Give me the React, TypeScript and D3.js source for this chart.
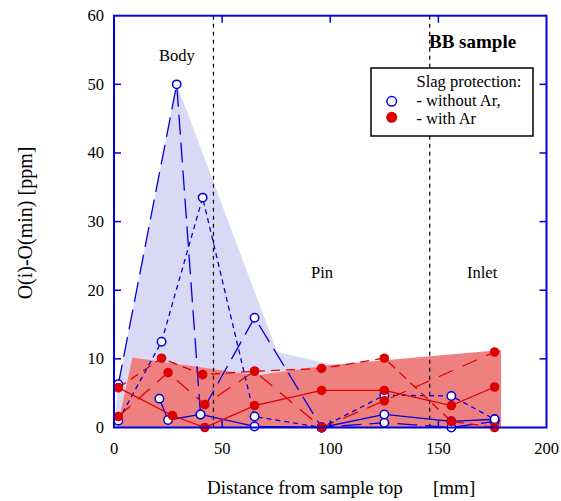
import React from 'react';
import * as d3 from 'd3';

// blue = without Ar (open circles), red = with Ar (filled)
const blueLongX = [2, 29, 40, 65, 96, 125, 156, 176];
const blueLongY = [6.3, 50, 1.9, 16, 0, 0.7, 0, 0.9];
const blueShortX = [2, 22, 41, 65, 96, 125, 156, 176];
const blueShortY = [1, 12.5, 33.5, 1.6, 0, 4.7, 4.6, 1.2];
const blueSolidX = [21, 25, 40, 65, 96, 125, 156, 176];
const blueSolidY = [4.2, 1.1, 1.9, 0.15, 0, 1.9, 0.9, 1.2];

const redSolidX = [2, 27, 42, 65, 96, 125, 156, 176];
const redSolidY = [5.8, 1.75, 0, 3.2, 5.4, 5.4, 3.2, 5.9];
const redDashX = [2, 22, 41, 65, 96, 125, 156, 176];
const redDashY = [5.8, 10.1, 7.7, 8.2, 8.6, 10.1, 0.9, 0];
const redLongX = [2, 25, 42, 65, 96, 125, 176];
const redLongY = [1.6, 8.0, 3.35, 8.2, 0, 3.9, 11];

// shaded envelopes
const blueAreaX = [0, 2, 29, 75.5, 100, 178, 178];
const blueAreaY = [0, 6.3, 50, 11, 9.2, 6, 0];
const redAreaX = [1.5, 8.5, 66, 100, 179, 179];
const redAreaY = [0, 10.2, 7.6, 9.1, 11.3, 0];

const xTicks = [0, 50, 100, 150, 200];
const yTicks = [0, 10, 20, 30, 40, 50, 60];
const regionBounds = [46, 146];

const BLUE = '#0000dd';
const RED = '#dd0000';
const FONT = '"Liberation Serif", "Times New Roman", serif';

const zip = (xs: number[], ys: number[]) => xs.map((x, i) => [x, ys[i]] as [number, number]);

export default function App() {
  const width = 561;
  const height = 501;
  const left = 114, right = 546.5, top = 15.7, bottom = 427.5;

  const x = d3.scaleLinear().domain([0, 200]).range([left, right]);
  const y = d3.scaleLinear().domain([0, 60]).range([bottom, top]);

  const line = d3.line<[number, number]>().x(d => x(d[0])).y(d => y(d[1]));
  const poly = (xs: number[], ys: number[]) => line(zip(xs, ys)) + 'Z';

  const blueSeries = [
    { xs: blueLongX, ys: blueLongY, dash: '20,8' },
    { xs: blueShortX, ys: blueShortY, dash: '5,4' },
    { xs: blueSolidX, ys: blueSolidY, dash: undefined },
  ];
  const redSeries = [
    { xs: redSolidX, ys: redSolidY, dash: undefined },
    { xs: redDashX, ys: redDashY, dash: '9,6' },
    { xs: redLongX, ys: redLongY, dash: '16,10' },
  ];

  const tick = 7;

  return (
    <svg width={width} height={height} style={{ position: 'absolute', left: 0, top: 0 }} fontFamily={FONT}>
      <rect width={width} height={height} fill="#fff" />
      <path d={poly(blueAreaX, blueAreaY)} fill="#d9d9f5" />
      <path d={poly(redAreaX, redAreaY)} fill="#ef8080" />

      {regionBounds.map(b => (
        <line key={b} x1={x(b)} x2={x(b)} y1={top} y2={bottom} stroke="#000" strokeWidth={1.2} strokeDasharray="4,4" />
      ))}

      {blueSeries.map((s, i) => (
        <path key={'bl' + i} d={line(zip(s.xs, s.ys)) || ''} fill="none" stroke={BLUE} strokeWidth={1.3} strokeDasharray={s.dash} />
      ))}
      {redSeries.map((s, i) => (
        <path key={'rl' + i} d={line(zip(s.xs, s.ys)) || ''} fill="none" stroke={RED} strokeWidth={1.3} strokeDasharray={s.dash} />
      ))}
      {blueSeries.map((s, i) =>
        zip(s.xs, s.ys).map((p, j) => (
          <circle key={`bm${i}-${j}`} cx={x(p[0])} cy={y(p[1])} r={4.2} fill="#fff" stroke={BLUE} strokeWidth={1.5} />
        ))
      )}
      {redSeries.map((s, i) =>
        zip(s.xs, s.ys).map((p, j) => (
          <circle key={`rm${i}-${j}`} cx={x(p[0])} cy={y(p[1])} r={4.8} fill={RED} />
        ))
      )}

      {/* frame and ticks */}
      <rect x={left} y={top} width={right - left} height={bottom - top} fill="none" stroke={BLUE} strokeWidth={2} />
      {xTicks.slice(1, -1).map(t => (
        <g key={'xt' + t} stroke={BLUE} strokeWidth={1.5}>
          <line x1={x(t)} x2={x(t)} y1={bottom} y2={bottom - tick} />
          <line x1={x(t)} x2={x(t)} y1={top} y2={top + tick} />
        </g>
      ))}
      {yTicks.slice(1, -1).map(t => (
        <g key={'yt' + t} stroke={BLUE} strokeWidth={1.5}>
          <line x1={left} x2={left + tick} y1={y(t)} y2={y(t)} />
          <line x1={right} x2={right - tick} y1={y(t)} y2={y(t)} />
        </g>
      ))}
      {xTicks.map(t => (
        <text key={'xl' + t} x={x(t)} y={454} textAnchor="middle" fontSize={16.5}>{t}</text>
      ))}
      {yTicks.map(t => (
        <text key={'yl' + t} x={104} y={y(t) + 5.5} textAnchor="end" fontSize={16.5}>{t}</text>
      ))}

      <text x={207} y={494} fontSize={19}>Distance from sample top</text>
      <text x={433} y={494} fontSize={19}>[mm]</text>
      <text transform="translate(32,223) rotate(-90)" textAnchor="middle" fontSize={20}>O(i)-O(min) [ppm]</text>

      <text x={177} y={61} textAnchor="middle" fontSize={16.5}>Body</text>
      <text x={311} y={278} fontSize={16.5}>Pin</text>
      <text x={467} y={278} fontSize={16.5}>Inlet</text>
      <text x={429} y={48} fontSize={19} fontWeight="bold">BB sample</text>

      {/* legend */}
      <rect x={371} y={68} width={162} height={68} fill="#fff" stroke="#000" strokeWidth={1.5} />
      <text x={416.5} y={87} fontSize={16.5}>Slag protection:</text>
      <text x={416.5} y={106} fontSize={16.5}>- without Ar,</text>
      <text x={416.5} y={124} fontSize={16.5}>- with Ar</text>
      <circle cx={391.7} cy={101.3} r={4.8} fill="#fff" stroke={BLUE} strokeWidth={1.5} />
      <circle cx={391.7} cy={117.3} r={5.5} fill={RED} />
    </svg>
  );
}
